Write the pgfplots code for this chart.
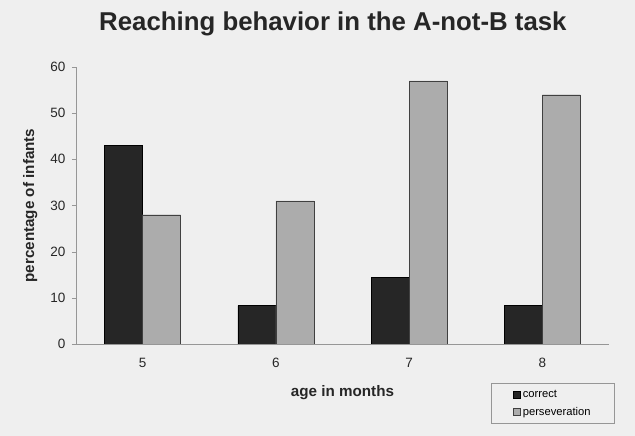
\documentclass[border=0pt]{standalone}
\usepackage{pgfplots}
\pgfplotsset{compat=1.18}
\usepackage{fontspec}
\setmainfont{Liberation Sans}
\definecolor{bg}{RGB}{239,239,239}
\definecolor{darkbar}{RGB}{38,38,38}
\definecolor{lightbar}{RGB}{172,172,172}
\definecolor{axisgray}{RGB}{150,150,150}
\pgfplotsset{sqlegend/.style={legend image code/.code={\draw[##1] (0pt,-3.5pt) rectangle (7pt,3.5pt);}}}

\begin{document}
\begin{tikzpicture}
\fill[bg] (0pt,0pt) rectangle (635pt,436pt);
\begin{axis}[
  at={(76pt,92pt)}, anchor=south west,
  width=533pt, height=277pt, scale only axis,
  ybar=0pt, bar width=38pt,
  xmin=-0.5, xmax=3.5, ymin=0, ymax=60,
  ytick={0,10,...,60},
  xtick={0,1,2,3}, xticklabels={5,6,7,8},
  axis x line*=bottom, axis y line*=left,
  axis line style={axisgray},
  tick align=outside,
  major x tick style={draw=none},
  major tick length=4pt,
  tick style={axisgray},
  /pgf/number format/assume math mode=true,
  tick label style={font=\fontsize{13.5}{15}\selectfont, text=black!85},
  xticklabel style={yshift=-7pt},
  yticklabel style={xshift=-3pt},
  title={Reaching behavior in the A-not-B task},
  title style={at={(axis description cs:0.482,1.134)}, anchor=center,
    font=\bfseries\fontsize{25.8}{30}\selectfont, text=black!85},
  xlabel={age in months},
  xlabel style={at={(axis description cs:0.5,-0.177)}, anchor=center,
    font=\bfseries\fontsize{15.2}{17}\selectfont, text=black!85},
  ylabel={percentage of infants},
  ylabel style={at={(axis description cs:-0.086,0.5)}, anchor=center,
    font=\bfseries\fontsize{15.2}{17}\selectfont, text=black!85},
  legend style={at={(axis description cs:0.779,-0.141)}, anchor=north west,
    draw=axisgray, fill=bg, font=\fontsize{11.2}{13}\selectfont,
    inner xsep=22pt, inner ysep=5pt, row sep=4pt,
    /tikz/every even column/.append style={column sep=1pt}},
  legend cell align=left,
]
\addplot[sqlegend, fill=darkbar, draw=black] coordinates {
  (0,43) (1,8.3) (2,14.4) (3,8.4)};
\addplot[sqlegend, fill=lightbar, draw=black!75] coordinates {
  (0,28) (1,31) (2,57) (3,54)};
\legend{correct, perseveration}
\end{axis}
\end{tikzpicture}
\end{document}
